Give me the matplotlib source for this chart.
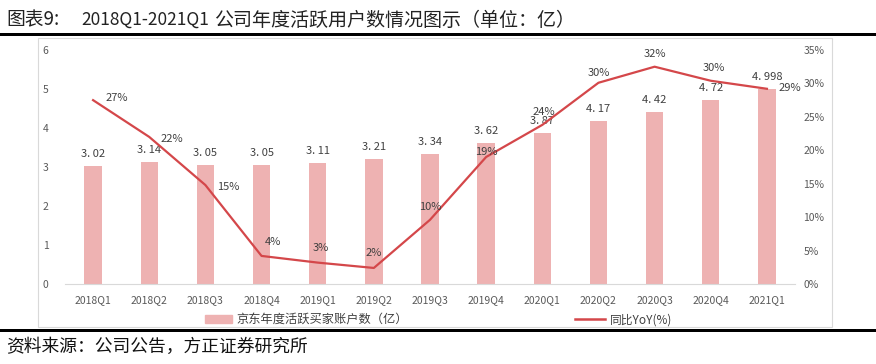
import matplotlib
matplotlib.use("Agg")
import matplotlib.pyplot as plt
from matplotlib.patches import Rectangle, Patch
from matplotlib.lines import Line2D

plt.rcParams['font.family'] = ['Noto Sans CJK SC', 'DejaVu Sans']

categories = ['2018Q1', '2018Q2', '2018Q3', '2018Q4', '2019Q1', '2019Q2', '2019Q3',
              '2019Q4', '2020Q1', '2020Q2', '2020Q3', '2020Q4', '2021Q1']
users = [3.02, 3.14, 3.05, 3.05, 3.11, 3.21, 3.34, 3.62, 3.87, 4.17, 4.42, 4.72, 4.998]
yoy = [27.5, 22.0, 14.8, 4.2, 3.2, 2.4, 9.6, 19.0, 23.8, 30.1, 32.5, 30.4, 29.2]
yoy_labels = ['27%', '22%', '15%', '4%', '3%', '2%', '10%', '19%', '24%', '30%', '32%', '30%', '29%']
left_ticks = [0, 1, 2, 3, 4, 5, 6]
right_ticks = [0, 5, 10, 15, 20, 25, 30, 35]

bar_color = '#eeb2b2'
line_color = '#d4474a'
text_color = '#404040'
tick_color = '#595959'

W, H = 876, 364
fig = plt.figure(figsize=(W / 100, H / 100), dpi=100)

def fx(px):
    return px / W

def fy(py):
    return 1 - py / H

# Title (three pieces to follow the reference spacing)
title_kw = dict(color='#222222', va='center', ha='left')
fig.text(fx(6), fy(20), '图表9:', fontsize=13.5, **title_kw)
fig.text(fx(81), fy(20), '2018Q1-2021Q1', fontsize=12.5, **title_kw)
fig.text(fx(214), fy(20), '公司年度活跃用户数情况图示（单位：亿）', fontsize=13.7, **title_kw)
# thick rules
fig.add_artist(Rectangle((0, fy(36)), 1, 3 / H, transform=fig.transFigure,
                         color='black', lw=0))
fig.add_artist(Rectangle((0, fy(332)), 1, 3 / H, transform=fig.transFigure,
                         color='black', lw=0))
# chart frame
fig.add_artist(Rectangle((fx(38), fy(327)), fx(832 - 38), (327 - 38) / H,
                         transform=fig.transFigure, fill=False,
                         edgecolor='#d9d9d9', lw=0.8))
# source
fig.text(fx(6), fy(347), '资料来源：公司公告，方正证券研究所', fontsize=12.8,
         color='#111111', va='center', ha='left', style='italic')

ax = fig.add_axes([fx(65), fy(284), fx(795 - 65), (284 - 50) / H])
x = list(range(len(categories)))
ax.bar(x, users, width=0.31, color=bar_color, zorder=2)
ax.set_xlim(-0.5, len(categories) - 0.5)
ax.set_ylim(0, 6)
ax.set_yticks(left_ticks)
ax.set_yticklabels([str(t) for t in left_ticks])
ax.set_xticks(x)
ax.set_xticklabels(categories)
ax.tick_params(axis='both', length=0, colors=tick_color, labelsize=7.5)
ax.tick_params(axis='x', pad=8)
ax.tick_params(axis='y', pad=12)
for s in ['top', 'left', 'right']:
    ax.spines[s].set_visible(False)
ax.spines['bottom'].set_color('#d9d9d9')
ax.spines['bottom'].set_linewidth(0.8)

for xi, v in zip(x, users):
    ax.annotate(str(v).replace('.', '. '), (xi, v), xytext=(0, 5), textcoords='offset points',
                ha='center', va='bottom', fontsize=8, color=text_color, zorder=5)

ax2 = ax.twinx()
ax2.plot(x, yoy, color=line_color, lw=1.6, zorder=3)
ax2.set_ylim(0, 35)
ax2.set_yticks(right_ticks)
ax2.set_yticklabels([f'{t}%' for t in right_ticks])
ax2.tick_params(axis='y', length=0, colors=tick_color, labelsize=7.5, pad=6)
for s in ['top', 'left', 'right', 'bottom']:
    ax2.spines[s].set_visible(False)

offsets_px = [(24, 2), (23, -2), (23, -2), (11, 14), (3, 15), (0, 15), (0, 13),
              (0, 5), (2, 13), (0, 10), (0, 13), (3, 13), (23, 1)]
for xi, v, lab, (dx, dy) in zip(x, yoy, yoy_labels, offsets_px):
    ax2.annotate(lab, (xi, v), xytext=(dx * 0.72, dy * 0.72), textcoords='offset points',
                 ha='center', va='center', fontsize=8, color=text_color, zorder=6)

# legends
fig.legend(handles=[Patch(color=bar_color)], labels=['京东年度活跃买家账户数（亿）'],
           loc='center left', bbox_to_anchor=(fx(194), fy(320)), frameon=False,
           fontsize=8.8, handlelength=2.2, handleheight=0.6, handletextpad=0.35,
           labelcolor=text_color)
fig.legend(handles=[Line2D([], [], color=line_color, lw=1.8)], labels=['同比YoY(%)'],
           loc='center left', bbox_to_anchor=(fx(564), fy(320)), frameon=False,
           fontsize=8.5, handlelength=2.6, handletextpad=0.4, labelcolor=text_color)

fig.savefig('out.png', dpi=100)
